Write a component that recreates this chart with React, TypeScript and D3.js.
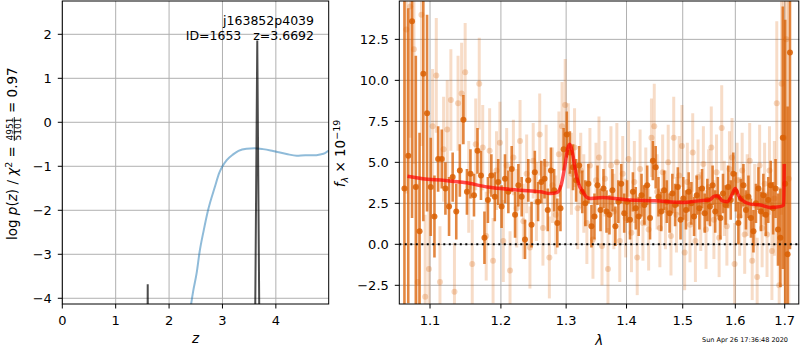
import * as d3 from "d3";

// ---- left panel: redshift probability ----
const zTicks = [0, 1, 2, 3, 4];
const logpTicks = [-4, -3, -2, -1, 0, 1, 2];

// chi2 based curve (blue)
const chiZ = [2.38, 2.45, 2.52, 2.57, 2.65, 2.73, 2.86, 2.94, 3.0, 3.08, 3.2, 3.3, 3.45, 3.6, 3.76, 3.9, 4.01, 4.2, 4.39, 4.55, 4.7, 4.83, 4.92, 4.99];
const chiLogP = [-4.4, -3.85, -3.4, -2.96, -2.45, -2.0, -1.46, -1.15, -1.0, -0.86, -0.73, -0.65, -0.6, -0.59, -0.61, -0.64, -0.67, -0.72, -0.76, -0.75, -0.75, -0.73, -0.7, -0.64];

// p(z) peaks (black)
const pzZ = [1.598, 1.6, 1.602, 3.613, 3.652, 3.69];
const pzLogP = [-4.4, -3.68, -4.4, -4.4, 1.86, -4.4];

// ---- right panel: spectrum ----
const lamTicks = [1.1, 1.2, 1.3, 1.4, 1.5, 1.6, 1.7];
const fluxTicks = [-2.5, 0, 2.5, 5, 7.5, 10, 12.5];

const darkLam = [
  1.066, 1.071, 1.076, 1.081, 1.086, 1.091, 1.096, 1.101, 1.106, 1.111,
  1.116, 1.121, 1.126, 1.131, 1.136, 1.141, 1.146, 1.151, 1.156, 1.161,
  1.166, 1.171, 1.176, 1.181, 1.186, 1.191, 1.196, 1.201, 1.206, 1.211,
  1.216, 1.221, 1.226, 1.231, 1.236, 1.241, 1.246, 1.251, 1.256, 1.261,
  1.266, 1.271, 1.276, 1.281, 1.286, 1.291, 1.296, 1.301, 1.306, 1.311,
  1.316, 1.321, 1.326, 1.331, 1.336, 1.341, 1.346, 1.351, 1.356, 1.361,
  1.366, 1.371, 1.376, 1.381, 1.386, 1.391, 1.396, 1.401, 1.406, 1.411,
  1.416, 1.421, 1.426, 1.431, 1.436, 1.441, 1.446, 1.451, 1.456, 1.461,
  1.466, 1.471, 1.476, 1.481, 1.486, 1.491, 1.496, 1.501, 1.506, 1.511,
  1.516, 1.521, 1.526, 1.531, 1.536, 1.541, 1.546, 1.551, 1.556, 1.561,
  1.566, 1.571, 1.576, 1.581, 1.586, 1.591, 1.596, 1.601, 1.606, 1.611,
  1.616, 1.621, 1.626, 1.631, 1.636, 1.641, 1.646, 1.651, 1.656, 1.661,
  1.666, 1.671, 1.676, 1.681, 1.686, 1.691, 1.696, 1.701, 1.706, 1.711,
];
const darkFlux = [
  3.4, 5.4, 13.6, 3.5, 0.8, 10.4, 8.0, 3.5, 1.7, 5.2,
  5.2, 3.4, 2.3, 4.1, 2.0, 4.5, 7.6, 3.2, 4.3, 3.0,
  5.7, 4.2, 0.4, 2.7, 4.2, 2.9, 3.8, 2.3, 4.0, 3.2,
  4.6, 1.8, 3.6, 2.9, 0.3, 3.9, 1.2, 4.4, 2.6, 3.8,
  4.0, 2.1, 4.5, 3.3, 1.3, 2.2, 5.8, 6.7, 5.6, 4.7,
  3.9, 4.8, 3.2, 2.5, 3.7, 1.1, 1.7, 3.6, 2.1, 3.4,
  2.0, 1.8, 3.3, 1.1, 2.6, 3.7, 1.9, 2.6, 1.5, 3.2,
  2.2, 1.7, 3.0, 2.4, 3.6, 1.6, 5.1, 4.7, 2.9, 2.0,
  3.3, 2.6, 1.9, 3.1, 2.4, 3.5, 1.5, 2.8, 2.1, 3.2,
  2.5, 1.7, 3.0, 2.2, 3.4, 1.9, 2.7, 2.3, 3.6, 2.0,
  2.9, 1.6, 3.1, 2.4, 3.5, 2.7, 4.3, 3.2, 1.3, 2.8,
  3.6, 2.1, 2.9, 1.6, 0.8, 2.5, 3.4, 2.0, 3.0, 1.8,
  2.7, 3.6, 2.2, 3.4, 0.9, 0.4, 6.5, 3.7, -0.6, 11.7,
];
const darkErr = [
  14, 9, 12, 8, 6, 9, 6, 3, 2.5, 2,
  1.8, 1.6, 1.8, 1.5, 1.7, 1.6, 1.5, 1.4, 1.5, 1.3,
  1.4, 1.5, 1.6, 1.4, 1.3, 1.5, 1.4, 1.3, 1.5, 1.3,
  1.4, 1.4, 1.3, 1.2, 1.2, 1.3, 1.4, 1.3, 1.2, 1.3,
  1.2, 1.3, 1.4, 1.3, 1.5, 1.4, 1.3, 1.4, 1.3, 1.4,
  1.3, 1.2, 1.3, 1.4, 1.2, 1.3, 1.4, 1.2, 1.3, 1.2,
  1.3, 1.2, 1.3, 1.2, 1.3, 1.2, 1.2, 1.3, 1.2, 1.2,
  1.3, 1.2, 1.3, 1.2, 1.2, 1.3, 1.2, 1.3, 1.2, 1.2,
  1.2, 1.3, 1.2, 1.2, 1.3, 1.2, 1.2, 1.3, 1.2, 1.2,
  1.3, 1.2, 1.2, 1.3, 1.2, 1.2, 1.3, 1.2, 1.2, 1.3,
  1.2, 1.3, 1.2, 1.2, 1.3, 1.2, 1.3, 1.2, 1.3, 1.2,
  1.3, 1.2, 1.3, 1.2, 1.3, 1.2, 1.3, 1.2, 1.3, 1.3,
  1.4, 1.5, 1.6, 1.8, 2.2, 3, 8, 10, 9, 12,
];

const lightLam = [
  1.0685, 1.0735, 1.0785, 1.0835, 1.0885, 1.0935, 1.0985, 1.1035, 1.1085, 1.1135,
  1.1185, 1.1235, 1.1285, 1.1335, 1.1385, 1.1435, 1.1485, 1.1535, 1.1585, 1.1635,
  1.1685, 1.1735, 1.1785, 1.1835, 1.1885, 1.1935, 1.1985, 1.2035, 1.2085, 1.2135,
  1.2185, 1.2235, 1.2285, 1.2335, 1.2385, 1.2435, 1.2485, 1.2535, 1.2585, 1.2635,
  1.2685, 1.2735, 1.2785, 1.2835, 1.2885, 1.2935, 1.2985, 1.3035, 1.3085, 1.3135,
  1.3185, 1.3235, 1.3285, 1.3335, 1.3385, 1.3435, 1.3485, 1.3535, 1.3585, 1.3635,
  1.3685, 1.3735, 1.3785, 1.3835, 1.3885, 1.3935, 1.3985, 1.4035, 1.4085, 1.4135,
  1.4185, 1.4235, 1.4285, 1.4335, 1.4385, 1.4435, 1.4485, 1.4535, 1.4585, 1.4635,
  1.4685, 1.4735, 1.4785, 1.4835, 1.4885, 1.4935, 1.4985, 1.5035, 1.5085, 1.5135,
  1.5185, 1.5235, 1.5285, 1.5335, 1.5385, 1.5435, 1.5485, 1.5535, 1.5585, 1.5635,
  1.5685, 1.5735, 1.5785, 1.5835, 1.5885, 1.5935, 1.5985, 1.6035, 1.6085, 1.6135,
  1.6185, 1.6235, 1.6285, 1.6335, 1.6385, 1.6435, 1.6485, 1.6535, 1.6585, 1.6635,
  1.6685, 1.6735, 1.6785, 1.6835, 1.6885, 1.6935, 1.6985, 1.7035, 1.7085,
];
const lightFlux = [
  13.1, 14.5, 11.9, -2.3, 14.0, -3.2, -1.5, 7.2, 10.3, -2.3,
  5.8, 7.0, 8.8, -2.9, 8.6, 9.2, 10.5, 3.5, -1.2, 6.1,
  9.8, 5.9, 0.5, 5.7, -1.0, 4.5, 6.2, 0.2, 4.8, -1.6,
  5.3, 2.2, 6.3, 1.4, 4.3, -0.2, 5.1, 2.6, 6.7, 1.0,
  4.9, -0.8, 3.6, 1.8, 5.5, 7.2, 8.5, 6.0, 4.3, 5.9,
  2.2, 4.5, 3.1, 1.3, 4.8, 0.3, 3.9, 5.3, -0.1, 4.0,
  -1.5, 4.8, 2.0, 5.0, 0.2, 4.3, 1.6, 5.2, 0.7, 3.8,
  -0.8, 4.6, 1.3, 3.5, 0.9, 6.5, 7.2, 3.2, 1.0, 4.4,
  2.1, 5.0, 0.5, 6.5, 1.8, 4.2, 6.0, -0.5, 3.8, 1.2,
  5.6, 0.2, 4.1, 2.0, 4.9, 0.9, 3.5, 5.9, 1.5, 4.4,
  0.4, 7.1, 2.8, 1.1, 4.6, 5.3, -1.2, 3.9, 1.7, 4.5,
  0.6, 3.0, 5.1, -1.0, 2.4, -2.0, 4.8, 1.0, 3.7, 0.6,
  4.5, -0.4, 2.8, 8.6, -2.5, 9.8, 6.5, 12.5, 4.0,
];
const lightErr = [
  10, 8, 7, 6, 8, 5, 4, 3.5, 3.5, 3.4,
  3.2, 3.0, 3.1, 3.0, 2.9, 3.1, 3.0, 2.8, 2.7, 2.8,
  2.8, 2.6, 2.7, 2.6, 2.6, 2.4, 2.5, 2.5, 2.3, 2.4,
  2.3, 2.4, 2.5, 2.3, 2.4, 2.5, 2.3, 2.4, 2.5, 2.3,
  2.4, 2.5, 2.3, 2.4, 2.6, 2.7, 2.8, 2.6, 2.5, 2.4,
  2.5, 2.3, 2.4, 2.5, 2.3, 2.4, 2.3, 2.5, 2.4, 2.3,
  2.5, 2.4, 2.3, 2.4, 2.5, 2.3, 2.4, 2.3, 2.4, 2.5,
  2.3, 2.4, 2.3, 2.4, 2.5, 2.4, 2.6, 2.3, 2.4, 2.3,
  2.4, 2.3, 2.4, 2.5, 2.3, 2.4, 2.5, 2.3, 2.4, 2.3,
  2.4, 2.5, 2.3, 2.4, 2.3, 2.4, 2.3, 2.5, 2.4, 2.3,
  2.4, 2.6, 2.3, 2.4, 2.3, 2.4, 2.5, 2.3, 2.4, 2.3,
  2.4, 2.5, 2.3, 2.4, 2.5, 2.4, 2.5, 2.4, 2.5, 2.6,
  2.7, 3, 3.5, 5, 6, 8, 9, 10, 12,
];

// best-fit template (red)
const modelLam = [1.07, 1.09, 1.12, 1.15, 1.18, 1.2, 1.23, 1.26, 1.275, 1.285, 1.292, 1.298, 1.303, 1.306, 1.31, 1.315, 1.32, 1.327, 1.334, 1.34, 1.36, 1.38, 1.4, 1.45, 1.5, 1.53, 1.55, 1.56, 1.565, 1.575, 1.585, 1.593, 1.6, 1.606, 1.613, 1.63, 1.65, 1.67, 1.69, 1.698, 1.699];
const modelFlux = [4.15, 4.0, 3.9, 3.75, 3.5, 3.4, 3.3, 3.2, 3.1, 3.15, 3.6, 4.8, 5.9, 6.1, 5.6, 4.5, 3.7, 3.2, 2.85, 2.8, 2.85, 2.8, 2.72, 2.65, 2.55, 2.65, 2.7, 2.95, 2.95, 2.65, 2.6, 3.0, 3.4, 3.0, 2.7, 2.45, 2.4, 2.25, 2.3, 2.4, 4.9];

const font = "DejaVu Sans, sans-serif";
const gridColor = "#b0b0b0";
const orange = "#d95f02";
const minus = (s: string) => s.replace("-", "\u2212");

const L = { x0: 62.3, x1: 328.7, y0: 1, y1: 304 };
const R = { x0: 399.3, x1: 799.3, y0: 1, y1: 304 };

export default function App() {
  const zScale = d3.scaleLinear().domain([0, 4.99]).range([L.x0, L.x1]);
  const pScale = d3.scaleLinear().domain([-4.13, 2.757]).range([L.y1, L.y0]);
  const lamScale = d3.scaleLog().domain([1.0593, 1.7307]).range([R.x0, R.x1]);
  const fScale = d3.scaleLinear().domain([-3.64, 14.84]).range([R.y1, R.y0]);

  const chiLine = d3
    .line<number>()
    .x((d, i) => zScale(chiZ[i]))
    .y((d) => pScale(d))
    .curve(d3.curveMonotoneX);
  // the p(z) peaks, drawn one at a time
  const peakLine = (offset: number) =>
    d3
      .line<number>()
      .x((d, i) => zScale(pzZ[i + offset]))
      .y((d) => pScale(d))(pzLogP.slice(offset, offset + 3)) || "";
  const modelLine = d3
    .line<number>()
    .x((d, i) => lamScale(modelLam[i]))
    .y((d) => fScale(d))
    .curve(d3.curveMonotoneX);

  return (
    <svg
      width={800}
      height={350}
      style={{ position: "absolute", left: 0, top: 0, background: "#fff" }}
      fontFamily={font}
    >
      <defs>
        <clipPath id="clipL">
          <rect x={L.x0} y={L.y0} width={L.x1 - L.x0} height={L.y1 - L.y0} />
        </clipPath>
        <clipPath id="clipR">
          <rect x={R.x0} y={R.y0} width={R.x1 - R.x0} height={R.y1 - R.y0} />
        </clipPath>
      </defs>

      {/* ---------- left panel ---------- */}
      <g stroke={gridColor} strokeWidth={1}>
        {zTicks.map((t) => (
          <line key={"zg" + t} x1={zScale(t)} x2={zScale(t)} y1={L.y0} y2={L.y1} />
        ))}
        {logpTicks.map((t) => (
          <line key={"pg" + t} x1={L.x0} x2={L.x1} y1={pScale(t)} y2={pScale(t)} />
        ))}
      </g>
      <g clipPath="url(#clipL)">
        <path d={chiLine(chiLogP) || ""} fill="none" stroke="#1f77b4" strokeOpacity={0.5} strokeWidth={2} />
        <path d={peakLine(0)} fill="none" stroke="#000" strokeOpacity={0.7} strokeWidth={2} />
        <path d={peakLine(3)} fill="none" stroke="#000" strokeOpacity={0.7} strokeWidth={2} />
      </g>
      <rect x={L.x0} y={L.y0} width={L.x1 - L.x0} height={L.y1 - L.y0} fill="none" stroke="#000" strokeWidth={1} />
      {zTicks.map((t) => (
        <g key={"zt" + t}>
          <line x1={zScale(t)} x2={zScale(t)} y1={L.y1} y2={L.y1 + 4.5} stroke="#000" />
          <text x={zScale(t)} y={324.5} fontSize={13} textAnchor="middle">
            {t}
          </text>
        </g>
      ))}
      {logpTicks.map((t) => (
        <g key={"pt" + t}>
          <line x1={L.x0 - 4.5} x2={L.x0} y1={pScale(t)} y2={pScale(t)} stroke="#000" />
          <text x={L.x0 - 10.5} y={pScale(t) + 4.7} fontSize={13} textAnchor="end">
            {minus(String(t))}
          </text>
        </g>
      ))}
      <text x={314} y={24.5} fontSize={12.5} textAnchor="end">
        j163852p4039
      </text>
      <text x={314} y={39.5} fontSize={12.5} textAnchor="end" style={{ whiteSpace: "pre" }}>
        {"ID=1653   z=3.6692"}
      </text>
      <text x={(L.x0 + L.x1) / 2} y={343} fontSize={13.5} textAnchor="middle" fontStyle="italic">
        z
      </text>
      <g transform="translate(17.3,240) rotate(-90)" fontSize={13.5}>
        <text x={0} y={0}>
          <tspan>log </tspan>
          <tspan fontStyle="italic">p</tspan>
          <tspan>(</tspan>
          <tspan fontStyle="italic">z</tspan>
          <tspan>) / </tspan>
          <tspan fontStyle="italic">χ</tspan>
          <tspan fontSize={9.5} dy={-5.5}>2</tspan>
          <tspan dy={5.5}> =</tspan>
        </text>
        <text x={111} y={-4.2} fontSize={9} textAnchor="middle">4951</text>
        <line x1={99} x2={123} y1={-3} y2={-3} stroke="#000" strokeWidth={0.8} />
        <text x={111} y={3.4} fontSize={9} textAnchor="middle">5101</text>
        <text x={127} y={0}>= 0.97</text>
      </g>

      {/* ---------- right panel ---------- */}
      <g stroke={gridColor} strokeWidth={1}>
        {lamTicks.map((t) => (
          <line key={"lg" + t} x1={lamScale(t)} x2={lamScale(t)} y1={R.y0} y2={R.y1} />
        ))}
        {fluxTicks.map((t) => (
          <line key={"fg" + t} x1={R.x0} x2={R.x1} y1={fScale(t)} y2={fScale(t)} />
        ))}
      </g>
      <g clipPath="url(#clipR)">
        {/* faint spectrum */}
        <g stroke={orange} strokeOpacity={0.22} strokeWidth={3}>
          {lightFlux.map((f, i) => (
            <line
              key={"le" + i}
              x1={lamScale(lightLam[i])}
              x2={lamScale(lightLam[i])}
              y1={fScale(f - lightErr[i])}
              y2={fScale(f + lightErr[i])}
            />
          ))}
        </g>
        <g fill={orange} fillOpacity={0.25}>
          {lightFlux.map((f, i) => (
            <circle key={"lp" + i} cx={lamScale(lightLam[i])} cy={fScale(f)} r={3} />
          ))}
        </g>
        {/* strong spectrum */}
        <g stroke={orange} strokeOpacity={0.75} strokeWidth={2.6}>
          {darkFlux.map((f, i) => (
            <line
              key={"de" + i}
              x1={lamScale(darkLam[i])}
              x2={lamScale(darkLam[i])}
              y1={fScale(f - darkErr[i])}
              y2={fScale(f + darkErr[i])}
            />
          ))}
        </g>
        <g fill={orange} fillOpacity={0.85}>
          {darkFlux.map((f, i) => (
            <circle key={"dp" + i} cx={lamScale(darkLam[i])} cy={fScale(f)} r={3} />
          ))}
        </g>
        <path d={modelLine(modelFlux) || ""} fill="none" stroke="#ff0000" strokeOpacity={0.7} strokeWidth={3.5} />
        <line
          x1={R.x0}
          x2={R.x1}
          y1={fScale(0)}
          y2={fScale(0)}
          stroke="#000"
          strokeWidth={2}
          strokeDasharray="2,3.5"
        />
      </g>
      <rect x={R.x0} y={R.y0} width={R.x1 - R.x0 - 0.5} height={R.y1 - R.y0} fill="none" stroke="#000" strokeWidth={1} />
      {lamTicks.map((t) => (
        <g key={"lt" + t}>
          <line x1={lamScale(t)} x2={lamScale(t)} y1={R.y1} y2={R.y1 + 4.5} stroke="#000" />
          <text x={lamScale(t)} y={324.5} fontSize={13} textAnchor="middle">
            {t.toFixed(1)}
          </text>
        </g>
      ))}
      {fluxTicks.map((t) => (
        <g key={"ft" + t}>
          <line x1={R.x0 - 4.5} x2={R.x0} y1={fScale(t)} y2={fScale(t)} stroke="#000" />
          <text x={R.x0 - 10.5} y={fScale(t) + 4.7} fontSize={13} textAnchor="end">
            {minus(t.toFixed(1))}
          </text>
        </g>
      ))}
      <text x={(R.x0 + R.x1) / 2} y={345} fontSize={13.5} textAnchor="middle" fontStyle="italic">
        λ
      </text>
      <g transform="translate(345,153.5) rotate(-90)" fontSize={13.5}>
        <text x={0} y={0} textAnchor="middle">
          <tspan fontStyle="italic">f</tspan>
          <tspan fontSize={9.5} dy={3} fontStyle="italic">λ</tspan>
          <tspan dy={-3}> × 10</tspan>
          <tspan fontSize={9.5} dy={-5.5}>−19</tspan>
        </text>
      </g>
      <text x={788} y={342} fontSize={6.5} textAnchor="end">
        Sun Apr 26 17:36:48 2020
      </text>
    </svg>
  );
}
